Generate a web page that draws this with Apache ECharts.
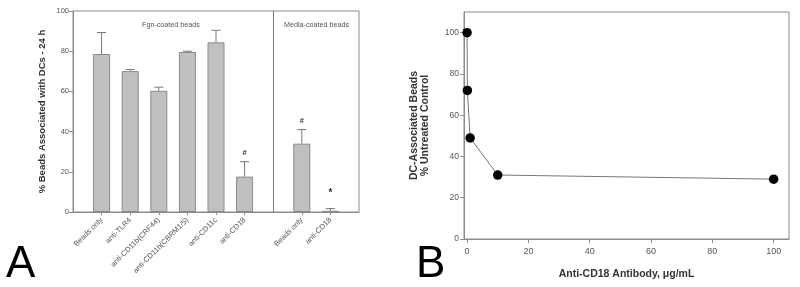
<!DOCTYPE html>
<html>
<head>
<meta charset="utf-8">
<script src="https://cdn.jsdelivr.net/npm/echarts@6/dist/echarts.min.js"></script>
<style>
html,body{margin:0;padding:0;background:#fff;}
#chart{width:800px;height:287px;}
</style>
</head>
<body>
<div id="chart"></div>
<script>
// ---- Panel A data ----
const fgnLabels = ['Beads only', 'anti-TLR4', 'anti-CD11b(CRF44)', 'anti-CD11b(CBRM1/5)', 'anti-CD11c', 'anti-CD18'];
const fgnMeans = [78.6, 70.1, 60.3, 79.6, 84.4, 17.6];
const fgnErrors = [10.7, 0.8, 1.8, 0.4, 6.0, 7.4];
const fgnMarks = ['', '', '', '', '', '#'];
const mediaLabels = ['Beads only', 'anti-CD18'];
const mediaMeans = [34.0, 0.6];
const mediaErrors = [7.0, 1.1];
const mediaMarks = ['#', '*'];
const groupTitles = ['Fgn-coated beads', 'Media-coated beads'];
const yTicksA = [0, 20, 40, 60, 80, 100];

// ---- Panel B data ----
const doseX = [0, 0.1, 1, 10, 100];
const doseY = [100, 72, 49, 31, 29];
const xTicksB = [0, 20, 40, 60, 80, 100];
const yTicksB = [0, 20, 40, 60, 80, 100];

// slot layout for panel A (value axis 0..10, divider between groups)
const fgnPos = fgnLabels.map((_, i) => i + 1);
const dividerPos = fgnLabels.length + 1;
const mediaPos = mediaLabels.map((_, i) => dividerPos + 1 + i);
const axisMaxA = dividerPos + mediaLabels.length + 1;

const labelMap = {};
fgnLabels.forEach((l, i) => labelMap[fgnPos[i]] = l);
mediaLabels.forEach((l, i) => labelMap[mediaPos[i]] = l);

const barData = fgnMeans.map((v, i) => [fgnPos[i], v]).concat(mediaMeans.map((v, i) => [mediaPos[i], v]));
const errData = fgnMeans.map((v, i) => [fgnPos[i], v, fgnErrors[i], fgnMarks[i]])
  .concat(mediaMeans.map((v, i) => [mediaPos[i], v, mediaErrors[i], mediaMarks[i]]));

const FONT = 'Liberation Sans, Arial, sans-serif';
const AX = '#8c8c8c';
const TXT = '#555';

const chart = echarts.init(document.getElementById('chart'), null, {renderer: 'canvas'});

const option = {
  animation: false,
  backgroundColor: '#fff',
  textStyle: {fontFamily: FONT},
  grid: [
    {left: 73, top: 11, width: 286, height: 201, show: true, borderColor: AX, borderWidth: 1, backgroundColor: 'transparent'},
    {left: 464, top: 12, width: 325, height: 227, show: true, borderColor: AX, borderWidth: 1, backgroundColor: 'transparent'}
  ],
  xAxis: [
    {
      type: 'value', gridIndex: 0, min: 0, max: axisMaxA, interval: 1,
      splitLine: {show: false},
      axisLine: {show: true, lineStyle: {color: AX, width: 1}},
      axisTick: {show: true, length: 3, lineStyle: {color: AX}, customValues: fgnPos.concat(mediaPos)},
      axisLabel: {
        rotate: 45, fontSize: 7.5, color: TXT, margin: 7, fontFamily: FONT,
        customValues: fgnPos.concat(mediaPos),
        formatter: v => labelMap[v] || ''
      }
    },
    {
      type: 'value', gridIndex: 1, min: -1, max: 105,
      splitLine: {show: false},
      axisLine: {show: true, onZero: false, lineStyle: {color: AX, width: 1}},
      axisTick: {show: true, length: 4, lineStyle: {color: AX}, customValues: xTicksB},
      axisLabel: {fontSize: 9, color: TXT, margin: 8, fontFamily: FONT, customValues: xTicksB},
      name: 'Anti-CD18 Antibody, \u03bcg/mL',
      nameLocation: 'middle', nameGap: 30,
      nameTextStyle: {fontSize: 10.5, fontWeight: 'bold', color: '#333', fontFamily: FONT}
    }
  ],
  yAxis: [
    {
      type: 'value', gridIndex: 0, min: 0, max: 100, interval: 20,
      splitLine: {show: false},
      axisLine: {show: true, lineStyle: {color: AX, width: 1}},
      axisTick: {show: true, length: 4, lineStyle: {color: AX}},
      axisLabel: {fontSize: 7.5, color: TXT, margin: 4, fontFamily: FONT},
      name: '% Beads Associated with DCs - 24 h',
      nameLocation: 'middle', nameGap: 26,
      nameTextStyle: {fontSize: 9.5, fontWeight: 'bold', color: '#333', fontFamily: FONT}
    },
    {
      type: 'value', gridIndex: 1, min: 0, max: 110,
      splitLine: {show: false},
      axisLine: {show: true, onZero: false, lineStyle: {color: AX, width: 1}},
      axisTick: {show: true, length: 4, lineStyle: {color: AX}, customValues: yTicksB},
      axisLabel: {fontSize: 8.5, color: TXT, margin: 5, fontFamily: FONT, customValues: yTicksB},
      name: 'DC-Associated Beads\n% Untreated Control',
      nameLocation: 'middle', nameGap: 33,
      nameTextStyle: {fontSize: 10.5, fontWeight: 'bold', color: '#333', lineHeight: 11, fontFamily: FONT}
    }
  ],
  series: [
    {
      type: 'bar', xAxisIndex: 0, yAxisIndex: 0,
      data: barData, barWidth: 17,
      itemStyle: {color: '#c0c0c0', borderColor: '#8a8a8a', borderWidth: 1},
      markLine: {
        silent: true, symbol: 'none', label: {show: false},
        lineStyle: {color: '#777', type: 'solid', width: 1},
        data: [{xAxis: dividerPos}]
      }
    },
    {
      type: 'custom', xAxisIndex: 0, yAxisIndex: 0,
      data: errData,
      renderItem: function (params, api) {
        const x = api.value(0), m = api.value(1), e = api.value(2);
        const mark = errData[params.dataIndex][3];
        const p0 = api.coord([x, m]);
        const p1 = api.coord([x, m + e]);
        const children = [
          {type: 'line', shape: {x1: p0[0], y1: p0[1], x2: p1[0], y2: p1[1]}, style: {stroke: '#777', lineWidth: 1}},
          {type: 'line', shape: {x1: p1[0] - 4.5, y1: p1[1], x2: p1[0] + 4.5, y2: p1[1]}, style: {stroke: '#777', lineWidth: 1}}
        ];
        if (mark) {
          const star = mark === '*';
          children.push({
            type: 'text',
            style: {
              text: mark, x: p1[0], y: p1[1] - (star ? 15 : 9),
              align: 'center', verticalAlign: 'middle',
              font: (star ? 'bold 10px ' : 'bold 7.5px ') + FONT, fill: '#333'
            }
          });
        }
        return {type: 'group', children: children};
      }
    },
    {
      type: 'line', xAxisIndex: 1, yAxisIndex: 1,
      data: doseX.map((x, i) => [x, doseY[i]]),
      symbol: 'circle', symbolSize: 9.5,
      itemStyle: {color: '#000'},
      lineStyle: {color: '#777', width: 1}
    }
  ],
  graphic: [
    {type: 'text', left: 142, top: 22, style: {text: groupTitles[0], font: '7.2px ' + FONT, fill: TXT}},
    {type: 'text', left: 284, top: 22, style: {text: groupTitles[1], font: '7.2px ' + FONT, fill: TXT}},
    {type: 'text', x: 6, y: 265, style: {text: 'A', font: '44px ' + FONT, fill: '#000', verticalAlign: 'middle'}},
    {type: 'text', x: 416, y: 265, style: {text: 'B', font: '44px ' + FONT, fill: '#000', verticalAlign: 'middle'}}
  ]
};
chart.setOption(option);
</script>
</body>
</html>
